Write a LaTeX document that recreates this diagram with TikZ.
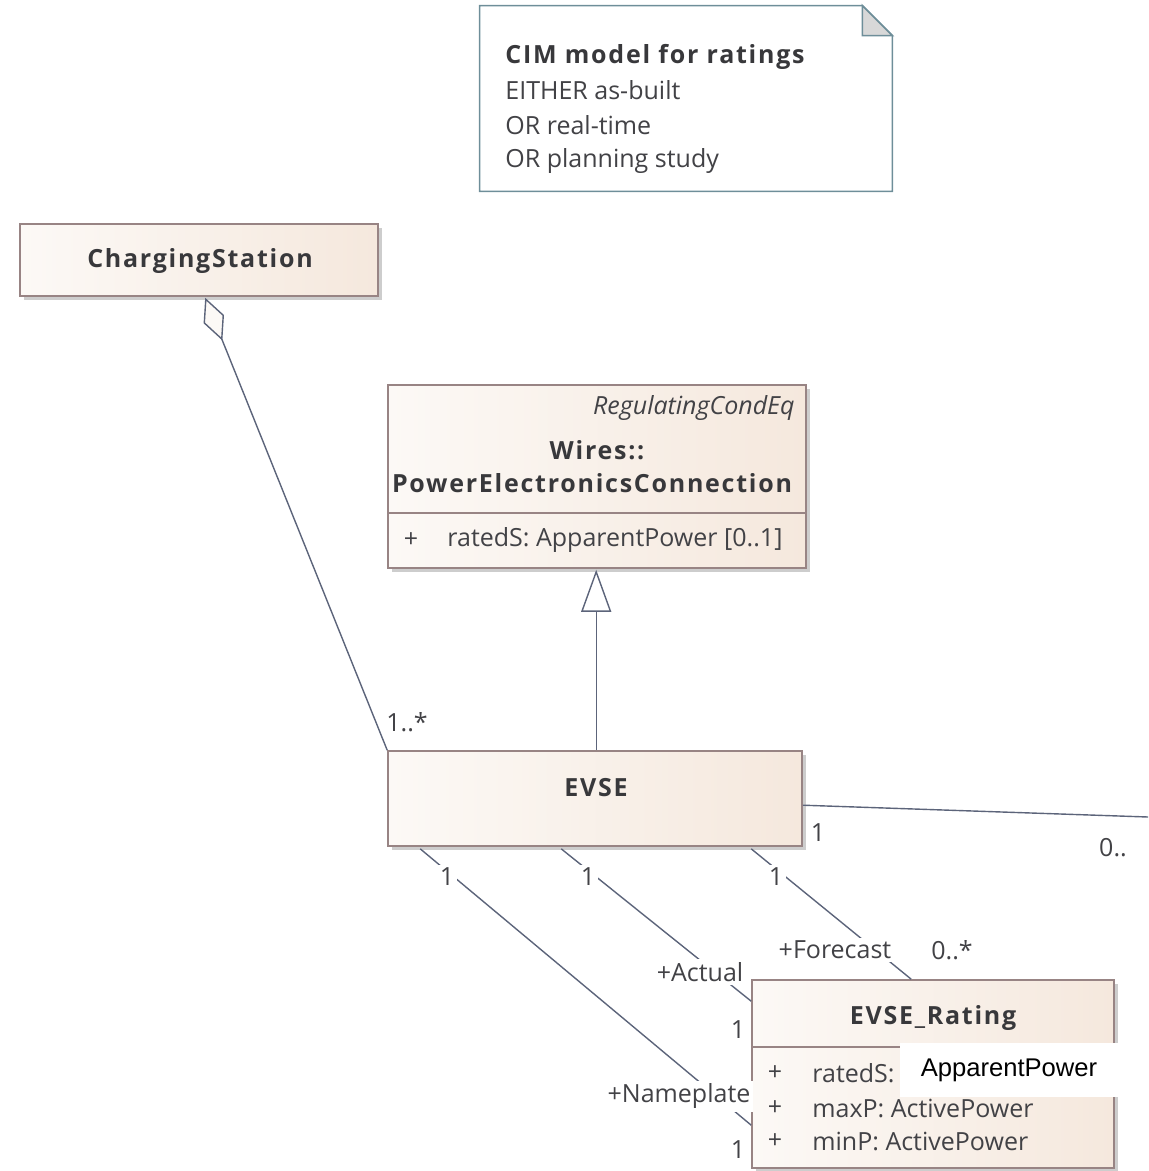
\documentclass[tikz,border=0pt]{standalone}
\usepackage{fontspec}
\setmainfont{Open Sans}[BoldFeatures={LetterSpace=7}]
\newfontfamily\overlayfont{Liberation Sans}
\usetikzlibrary{arrows.meta,shadows,calc}

\definecolor{boxline}{RGB}{152,132,132}
\definecolor{boxleft}{RGB}{252,249,246}
\definecolor{boxright}{RGB}{245,232,221}
\definecolor{txt}{RGB}{66,66,70}
\definecolor{conn}{RGB}{92,100,122}
\definecolor{noteline}{RGB}{110,142,153}
\definecolor{notefold}{RGB}{216,216,216}
\definecolor{shadowgray}{RGB}{205,205,205}

\tikzset{
  classbox/.style={draw=boxline, line width=0.8pt, left color=boxleft, right color=boxright,
    inner sep=0pt, drop shadow={shadow xshift=2pt, shadow yshift=-2pt, fill=shadowgray, opacity=1}},
  sepline/.style={draw=boxline, line width=0.8pt},
  plain/.style={font=\fontsize{12.5}{15}\selectfont, text=txt, inner sep=0pt},
  title/.style={font=\fontsize{12.5}{15}\selectfont\bfseries, text=txt!85!black, inner sep=0pt},
  lbl/.style={font=\fontsize{12.5}{15}\selectfont, text=txt, fill=white, inner sep=1.5pt},
  connline/.style={draw=conn, line width=0.7pt},
}

\begin{document}
\begin{tikzpicture}[x=0.5pt,y=-0.5pt]
\useasboundingbox (0,0) rectangle (1148,1171);

% ---- note with folded corner
\node[inner sep=0pt, minimum width=206pt, minimum height=92.5pt] (note) at (686,98.5) {};
\draw[draw=noteline, line width=0.8pt, fill=white]
  (note.north west) -- ($(note.north east)+(-30,0)$) -- ($(note.north east)+(0,30)$)
  -- (note.south east) -- (note.south west) -- cycle;
\draw[draw=noteline, line width=0.8pt, fill=notefold]
  ($(note.north east)+(-30,0)$) -- ($(note.north east)+(-30,30)$) -- ($(note.north east)+(0,30)$) -- cycle;
\node[title, anchor=west] (noteT) at (505,57) {CIM model for ratings};
\node[plain, anchor=west] (noteA) at (505,90) {EITHER as-built};
\node[plain, anchor=west] (noteB) at (505,125) {OR real-time};
\node[plain, anchor=west] (noteC) at (505,161) {OR planning study};

% ---- ChargingStation
\node[classbox, minimum width=179pt, minimum height=36pt] (cs) at (199,260) {};
\node[title] (csName) at (200,261) {ChargingStation};

% ---- PowerElectronicsConnection
\node[classbox, minimum width=209pt, minimum height=91.5pt] (pec) at (597,476.5) {};
\draw[sepline] ($(pec.north west)+(0,129)$) -- ($(pec.north east)+(0,129)$);
\node[plain, font=\fontsize{12.5}{15}\selectfont\itshape, anchor=east] (pecStereo) at (795,408) {RegulatingCondEq};
\node[title] (pecPkg) at (597,450) {Wires::};
\node[title] (pecName) at (592,483) {PowerElectronicsConnection};
\node[plain] (pecPlus) at (411,540) {+};
\node[plain, anchor=west] (pecAttr) at (447,540) {ratedS: ApparentPower [0..1]};

% ---- EVSE
\node[classbox, minimum width=207pt, minimum height=47.5pt] (evse) at (595,798.5) {};
\node[title] (evseName) at (596,788) {EVSE};

% ---- EVSE_Rating
\node[classbox, minimum width=181pt, minimum height=94pt] (rating) at (933,1074) {};
\draw[sepline] ($(rating.north west)+(0,68)$) -- ($(rating.north east)+(0,68)$);
\node[title] (ratingName) at (933,1018) {EVSE\_Rating};
\node[plain] (rPlusA) at (775,1073) {+};
\node[plain, anchor=west] (rAttrA) at (812,1073) {ratedS:};
\node[plain] (rPlusB) at (775,1108) {+};
\node[plain, anchor=west] (rAttrB) at (812,1108) {maxP: ActivePower};
\node[plain] (rPlusC) at (775,1141) {+};
\node[plain, anchor=west] (rAttrC) at (812,1141) {minP: ActivePower};
\node[fill=white, inner sep=0pt, minimum width=109pt, minimum height=27pt,
      font=\overlayfont\fontsize{12.8}{15}\selectfont, text=black] (overlay) at (1009,1070) {ApparentPower};

% ---- connectors
\draw[connline, -{Diamond[length=23pt, width=11pt, fill=boxleft, line width=0.7pt]}]
  (evse.north west) -- ($(cs.south west)+(186,1)$);
\draw[connline, -{Triangle[length=21pt, width=15pt, fill=white, line width=0.7pt]}]
  ($(evse.north west)+(209,0)$) -- ($(pec.south west)+(209,1)$);
\coordinate (offRight) at (1148,817);
\draw[connline] ($(evse.north east)+(0,55)$) -- (offRight);
\draw[connline] ($(evse.south west)+(33,2)$) -- ($(rating.north west)+(0,146)$);
\draw[connline] ($(evse.south west)+(174,2)$) -- ($(rating.north west)+(0,22)$);
\draw[connline] ($(evse.south west)+(364,2)$) -- ($(rating.north west)+(160,0)$);

% ---- connector labels
\node[lbl] (mCs) at (407,722) {1..*};
\node[lbl] (mRightA) at (818,833) {1};
\node[lbl] (mRightB) at (1113,848) {0..};
\node[lbl] (mNpA) at (447,877) {1};
\node[lbl] (mAcA) at (588,877) {1};
\node[lbl] (mFcA) at (776,877) {1};
\node[lbl] (rFc) at (835,950) {+Forecast};
\node[lbl] (mFcB) at (952,950) {0..*};
\node[lbl] (rAc) at (700,972) {+Actual};
\node[lbl] (mAcB) at (738,1030) {1};
\node[lbl] (rNp) at (679,1096) {+Nameplate};
\node[lbl] (mNpB) at (738,1150) {1};
\end{tikzpicture}
\end{document}
